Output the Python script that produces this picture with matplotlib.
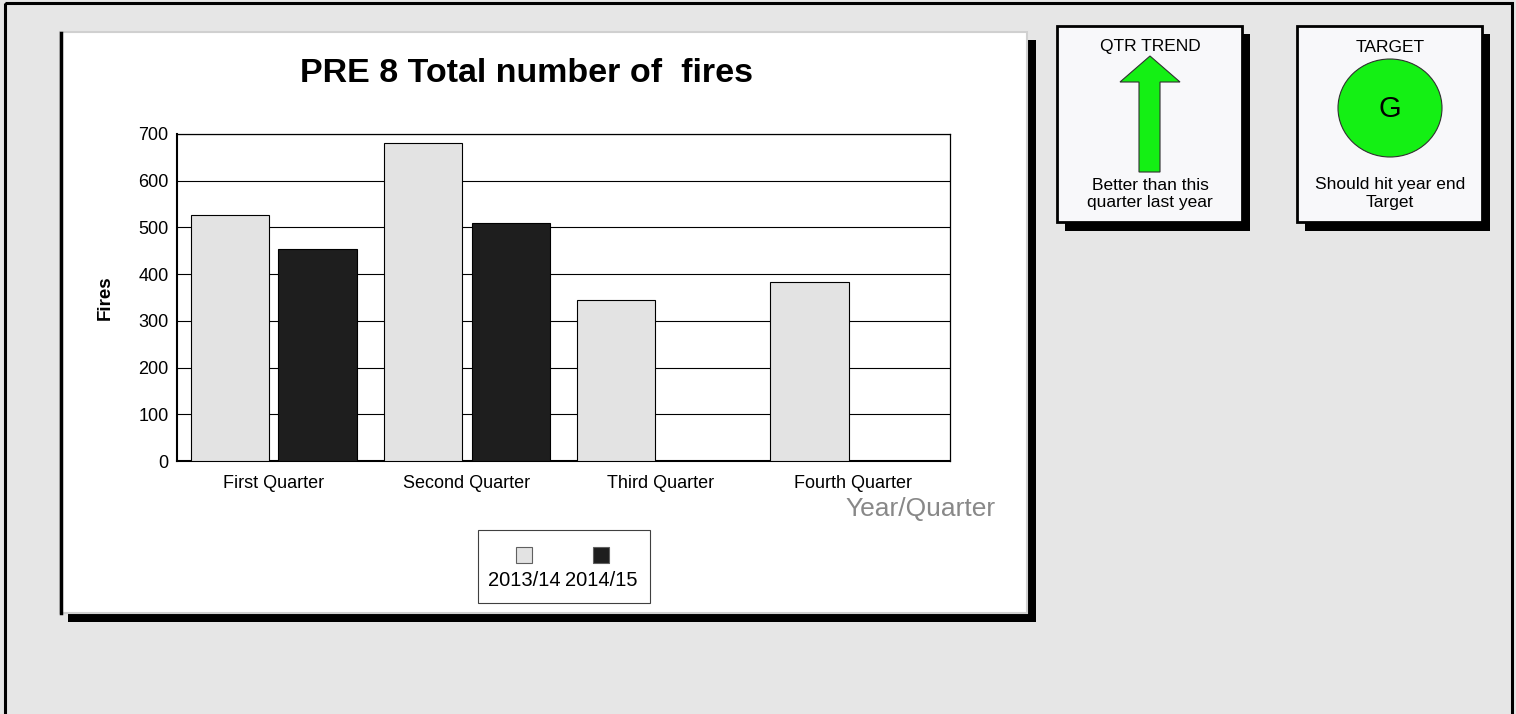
import numpy as np
import matplotlib
matplotlib.use("Agg")
import matplotlib.pyplot as plt
from matplotlib.patches import Rectangle, Ellipse, Polygon

plt.rcParams['font.family'] = ['Liberation Sans', 'DejaVu Sans']

# --- data ---
quarters = ["First Quarter", "Second Quarter", "Third Quarter", "Fourth Quarter"]
series_names = ["2013/14", "2014/15"]
fires_2013 = [526, 681, 345, 384]
fires_2014 = [454, 510, np.nan, np.nan]
series_colors = ["#e3e3e3", "#1e1e1e"]
yticks = [0, 100, 200, 300, 400, 500, 600, 700]

W, H = 1516, 714
fig = plt.figure(figsize=(W / 100, H / 100), dpi=100)
fig.patch.set_facecolor("#e6e6e6")

# background layer in pixel coords
bg = fig.add_axes([0, 0, 1, 1])
bg.set_xlim(0, W)
bg.set_ylim(H, 0)
bg.axis("off")

# outer frame
bg.add_patch(Rectangle((5, 3), 1507, 720, fill=False, ec="black", lw=2.2))

# main chart panel + shadow
bg.add_patch(Rectangle((68, 40), 968, 582, fc="black", ec="none"))
bg.add_patch(Rectangle((60, 32), 967, 581, fc="white", ec="#d0d0d0", lw=1.5))
bg.plot([61, 61], [33, 613], color="black", lw=2.5)

# small indicator panels
for x0, title, sub in [(1057, "QTR TREND", "Better than this\nquarter last year"),
                       (1297, "TARGET", "Should hit year end\nTarget")]:
    bg.add_patch(Rectangle((x0 + 8, 34), 185, 197, fc="black", ec="none"))
    bg.add_patch(Rectangle((x0, 26), 185, 196, fc="#f8f8fa", ec="black", lw=2))
    bg.text(x0 + 93, 47, title, ha="center", va="center", fontsize=12.5)
    bg.text(x0 + 93, 194, sub, ha="center", va="center", fontsize=12.5,
            linespacing=1.25)

# trend arrow
bg.add_patch(Polygon([(1150, 56), (1180, 82), (1160, 82), (1160, 172),
                      (1139, 172), (1139, 82), (1120, 82)],
                     closed=True, fc="#14f014", ec="#303030", lw=0.8))
# target circle
bg.add_patch(Ellipse((1390, 108), 104, 98, fc="#14f014", ec="#303030", lw=0.8))
bg.text(1390, 109, "G", ha="center", va="center", fontsize=21)

# --- bar chart ---
ax = fig.add_axes([177 / W, 1 - 461 / H, 773 / W, 327 / H])
x = np.arange(len(quarters))
bw = 0.405
ax.bar(x - 0.227, fires_2013, bw, color=series_colors[0], edgecolor="black",
       lw=0.8, zorder=3)
ax.bar(x + 0.227, fires_2014, bw, color=series_colors[1], edgecolor="black",
       lw=0.8, zorder=3)
ax.set_xlim(-0.5, len(quarters) - 0.5)
ax.set_ylim(0, 700)
ax.set_yticks(yticks)
ax.yaxis.grid(True, color="black", lw=0.8, zorder=0)
ax.set_axisbelow(True)
ax.set_xticks(x)
ax.set_xticklabels(quarters, fontsize=13)
ax.tick_params(axis="y", labelsize=13, length=0, pad=6)
ax.tick_params(axis="x", length=0, pad=10)
for s in ax.spines.values():
    s.set_color("black")
    s.set_linewidth(0.9)
ax.spines["bottom"].set_linewidth(1.5)
ax.spines["left"].set_linewidth(1.5)

ax.set_ylabel("Fires", fontsize=13.5, fontweight="bold", labelpad=18)

bg.text(527, 73, "PRE 8 Total number of  fires", ha="center", va="center",
        fontsize=24.5, fontweight="bold")
bg.text(996, 509, "Year/Quarter", ha="right", va="center", fontsize=19,
        color="#888888")

# legend (markers above labels)
bg.add_patch(Rectangle((478, 530), 172, 73, fc="white", ec="#404040", lw=0.8))
for cx, name, col in zip([524, 601], series_names, series_colors):
    bg.add_patch(Rectangle((cx - 8, 547), 16, 16, fc=col, ec="#606060", lw=0.8))
    bg.text(cx, 580, name, ha="center", va="center", fontsize=14.5)

fig.savefig("out.png", dpi=100, facecolor=fig.get_facecolor())
